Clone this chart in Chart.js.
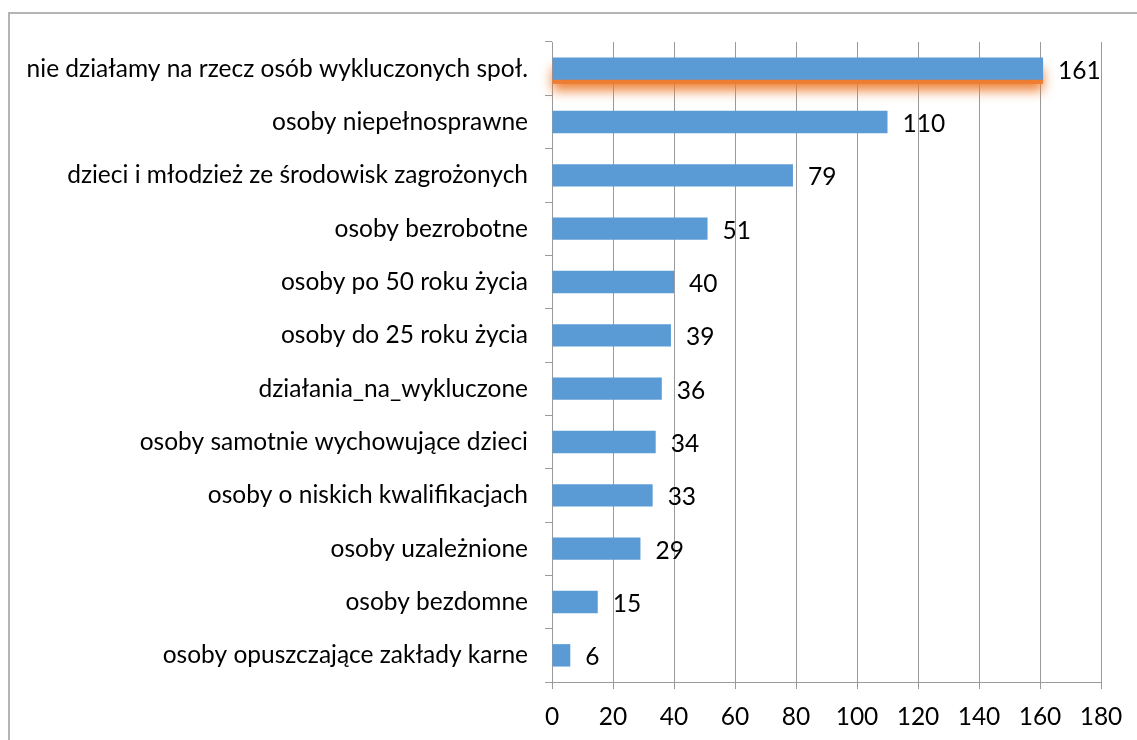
<!DOCTYPE html>
<html lang="pl">
<head>
    <meta charset="UTF-8">
    <title>Wykres</title>
    <script src="https://cdn.jsdelivr.net/npm/chart.js"></script>
    <style>
        html, body { margin: 0; padding: 0; background: #fff; overflow: hidden; }
    </style>
</head>
<body>
    <canvas id="wykres" width="1137" height="740"></canvas>

    <script>
        const kategorie = [
            'nie działamy na rzecz osób wykluczonych społ.',
            'osoby niepełnosprawne',
            'dzieci i młodzież ze środowisk zagrożonych',
            'osoby bezrobotne',
            'osoby po 50 roku życia',
            'osoby do 25 roku życia',
            'działania_na_wykluczone',
            'osoby samotnie wychowujące dzieci',
            'osoby o niskich kwalifikacjach',
            'osoby uzależnione',
            'osoby bezdomne',
            'osoby opuszczające zakłady karne'
        ];
        const wartosci = [161, 110, 79, 51, 40, 39, 36, 34, 33, 29, 15, 6];
        const osX = [0, 20, 40, 60, 80, 100, 120, 140, 160, 180];

        const FONT = 'Lato, "Open Sans", sans-serif';
        const ROZMIAR = 24.5;

        // ramka wokół wykresu
        const ramka = {
            id: 'ramka',
            beforeDraw(chart) {
                const c = chart.ctx;
                c.save();
                c.strokeStyle = '#b4b4b4';
                c.lineWidth = 2;
                c.strokeRect(9, 13, 1200, 800);
                c.restore();
            }
        };

        // pomarańczowa poświata pod pierwszym słupkiem
        const poswiata = {
            id: 'poswiata',
            beforeDatasetsDraw(chart) {
                const bar = chart.getDatasetMeta(0).data[0];
                if (!bar) return;
                const c = chart.ctx;
                const h = bar.height;
                c.save();
                c.shadowColor = 'rgba(237,125,49,0.95)';
                c.shadowBlur = 12;
                c.shadowOffsetY = 7;
                c.fillStyle = '#ed7d31';
                c.fillRect(bar.base, bar.y - h / 2 + 4, bar.x - bar.base, h);
                c.restore();
            }
        };

        // etykiety wartości
        const etykiety = {
            id: 'etykiety',
            afterDatasetsDraw(chart) {
                const c = chart.ctx;
                c.save();
                c.font = ROZMIAR + 'px ' + FONT;
                c.fillStyle = '#000';
                c.textBaseline = 'middle';
                c.textAlign = 'left';
                chart.getDatasetMeta(0).data.forEach((bar, i) => {
                    c.fillText(String(wartosci[i]), bar.x + 15, bar.y + 2);
                });
                c.restore();
            }
        };

        const ctx = document.getElementById('wykres').getContext('2d');
        new Chart(ctx, {
            type: 'bar',
            data: {
                labels: kategorie,
                datasets: [{
                    data: wartosci,
                    backgroundColor: '#5b9bd5',
                    borderWidth: 0,
                    categoryPercentage: 1,
                    barPercentage: 0.42
                }]
            },
            options: {
                indexAxis: 'y',
                responsive: false,
                animation: false,
                layout: { padding: { top: 42, right: 36, left: 0, bottom: 0 } },
                plugins: {
                    legend: { display: false },
                    tooltip: { enabled: false }
                },
                scales: {
                    x: {
                        min: 0,
                        max: 180,
                        afterBuildTicks(scale) {
                            scale.ticks = osX.map(v => ({ value: v }));
                        },
                        afterFit(scale) { scale.height = 58; },
                        grid: {
                            color: '#9a9a9a',
                            lineWidth: 1,
                            tickLength: 7,
                            drawTicks: true
                        },
                        border: { color: '#9a9a9a' },
                        ticks: {
                            font: { family: FONT, size: ROZMIAR },
                            color: '#000',
                            padding: 13
                        }
                    },
                    y: {
                        afterFit(scale) { scale.width = 552; },
                        grid: {
                            offset: true,
                            drawOnChartArea: false,
                            color: '#9a9a9a',
                            tickLength: 7
                        },
                        border: { color: '#9a9a9a' },
                        ticks: {
                            font: { family: FONT, size: ROZMIAR },
                            color: '#000',
                            padding: 17,
                            autoSkip: false
                        }
                    }
                }
            },
            plugins: [ramka, poswiata, etykiety]
        });
    </script>
</body>
</html>
